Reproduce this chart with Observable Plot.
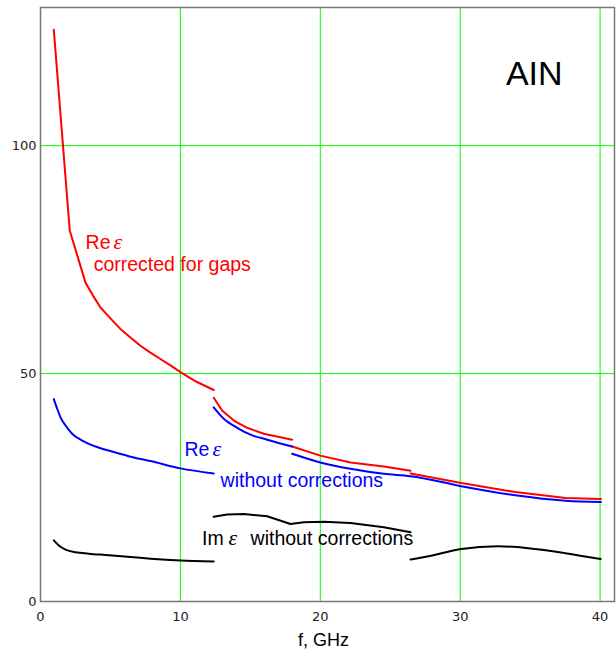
<!DOCTYPE html>
<html><head><meta charset="utf-8">
<script src="https://cdn.jsdelivr.net/npm/d3@7"></script>
<script src="https://cdn.jsdelivr.net/npm/@observablehq/plot@0.6"></script>
<style>body{margin:0;background:#fff} #chart svg{display:block}</style>
</head><body><div id="chart"></div>
<script>
// tick labels and grid
const xTicks = [0, 10, 20, 30, 40];
const yTicks = [0, 50, 100];
const gridX = [10, 20, 30, 40];
const gridY = [50, 100];

// Re ε corrected for gaps (red), segment id per point
const redF   = [0.95, 2.09, 3.21, 3.75, 4.29, 5.0, 5.71, 6.43, 7.14, 7.86, 8.57, 9.29, 10.0, 11.15, 12.38,
                12.38, 12.98, 13.82, 14.77, 15.96, 17.99,
                17.99, 20.0, 22.16, 24.54, 26.45,
                26.45, 30.08, 33.93, 37.54, 40.06];
const redV   = [125.4, 81.4, 70.0, 67.1, 64.5, 62.1, 59.8, 57.9, 56.1, 54.6, 53.2, 51.8, 50.3, 48.2, 46.4,
                44.7, 41.9, 39.7, 38.1, 36.8, 35.5,
                34.0, 32.0, 30.5, 29.6, 28.7,
                28.1, 26.0, 24.0, 22.7, 22.5];
const redSeg = [1,1,1,1,1,1,1,1,1,1,1,1,1,1,1, 2,2,2,2,2,2, 3,3,3,3,3, 4,4,4,4,4];

// Re ε without corrections (blue)
const blueF   = [0.95, 1.19, 1.43, 1.79, 2.26, 2.98, 3.93, 5.12, 6.67, 7.86, 10.0, 12.38,
                 12.38, 13.1, 14.06, 15.01, 16.2, 17.99,
                 17.99, 20.0, 22.16, 24.54, 26.45, 30.08, 33.93, 37.54, 40.06];
const blueV   = [44.4, 42.3, 40.4, 38.6, 36.8, 35.3, 34.0, 32.9, 31.6, 30.8, 29.2, 28.1,
                 42.6, 40.1, 38.1, 36.6, 35.5, 34.0,
                 32.4, 30.5, 29.1, 28.0, 27.5, 25.3, 23.3, 22.1, 21.8];
const blueSeg = [1,1,1,1,1,1,1,1,1,1,1,1, 2,2,2,2,2,2, 3,3,3,3,3,3,3,3,3];

// Im ε without corrections (black)
const blackF   = [0.95, 1.31, 1.79, 2.5, 3.45, 4.65, 6.67, 7.86, 10.0, 12.38,
                  12.38, 13.34, 14.53, 16.2, 17.87, 18.82, 20.25, 22.16, 24.54, 26.45,
                  26.45, 28.15, 30.07, 32.71, 34.88, 37.52, 40.04];
const blackV   = [13.4, 12.3, 11.4, 10.8, 10.5, 10.2, 9.7, 9.4, 9.0, 8.8,
                  18.6, 19.1, 19.2, 18.7, 17.0, 17.4, 17.5, 17.2, 16.3, 15.2,
                  9.2, 10.2, 11.5, 12.1, 11.7, 10.6, 9.3];
const blackSeg = [1,1,1,1,1,1,1,1,1,1, 2,2,2,2,2,2,2,2,2,2, 3,3,3,3,3,3,3];

const rows = (F, V, S) => F.map((f, i) => ({f, v: V[i], seg: S[i]}));
const red = rows(redF, redV, redSeg);
const blue = rows(blueF, blueV, blueSeg);
const black = rows(blackF, blackV, blackSeg);

const sans = "'Liberation Sans', Arial, sans-serif";
const serif = "'Liberation Serif', 'Times New Roman', serif";
const T = (s, o) => Plot.text([s], {text: d => d, textAnchor: "start", lineAnchor: "bottom",
  fontFamily: sans, fontSize: 19.5, ...o});

const chart = Plot.plot({
  width: 616, height: 649,
  marginLeft: 40, marginRight: 2, marginTop: 7, marginBottom: 48,
  x: {domain: [0, 41.03]},
  y: {domain: [0, 130.3]},
  style: {background: "#fff", overflow: "visible"},
  marks: [
    Plot.ruleX(gridX, {stroke: "#00ff00", strokeWidth: 1}),
    Plot.ruleY(gridY, {stroke: "#00ff00", strokeWidth: 1}),
    Plot.line(red, {x: "f", y: "v", z: "seg", stroke: "#ff0000", strokeWidth: 2}),
    Plot.line(blue, {x: "f", y: "v", z: "seg", stroke: "#0000ff", strokeWidth: 2, curve: "monotone-x"}),
    Plot.line(black, {filter: d => d.seg !== 2, x: "f", y: "v", z: "seg", stroke: "#000000", strokeWidth: 2, curve: "monotone-x"}),
    Plot.line(black, {filter: d => d.seg === 2, x: "f", y: "v", stroke: "#000000", strokeWidth: 2}),
    Plot.frame({stroke: "#777", strokeWidth: 1.5}),
    Plot.axisX(xTicks, {tickSize: 0, tickPadding: 10, fontSize: 13, fontFamily: "'DejaVu Sans', sans-serif", fill: "#222", label: null}),
    Plot.axisY(yTicks, {tickSize: 0, tickPadding: 4, fontSize: 13, fontFamily: "'DejaVu Sans', sans-serif", fill: "#222", label: null}),
    Plot.text(["f, GHz"], {text: d => d, frameAnchor: "bottom", dy: 44, dx: -4, lineAnchor: "bottom", fontSize: 18, fontFamily: sans, fill: "#000"}),
    T("AIN", {x: [33.27], y: [113.2], fontSize: 34, fill: "#000"}),
    T("Re", {x: [3.22], y: [77.4], fill: "#ff0000"}),
    T("\u03b5", {x: [3.22], y: [77.4], dx: 28, fill: "#ff0000", fontFamily: serif, fontStyle: "italic", fontSize: 22}),
    T("corrected for gaps", {x: [3.8], y: [72.4], fill: "#ff0000"}),
    T("Re", {x: [10.29], y: [32.0], fill: "#0000ff"}),
    T("\u03b5", {x: [10.29], y: [32.0], dx: 28, fill: "#0000ff", fontFamily: serif, fontStyle: "italic", fontSize: 22}),
    T("without corrections", {x: [12.87], y: [25.1], fill: "#0000ff"}),
    T("Im", {x: [11.55], y: [12.5], fill: "#000"}),
    T("\u03b5", {x: [11.55], y: [12.5], dx: 26.5, fill: "#000", fontFamily: serif, fontStyle: "italic", fontSize: 22}),
    T("without corrections", {x: [11.55], y: [12.5], dx: 48.5, fill: "#000"})
  ]
});
document.getElementById("chart").appendChild(chart);
</script>
</body></html>
